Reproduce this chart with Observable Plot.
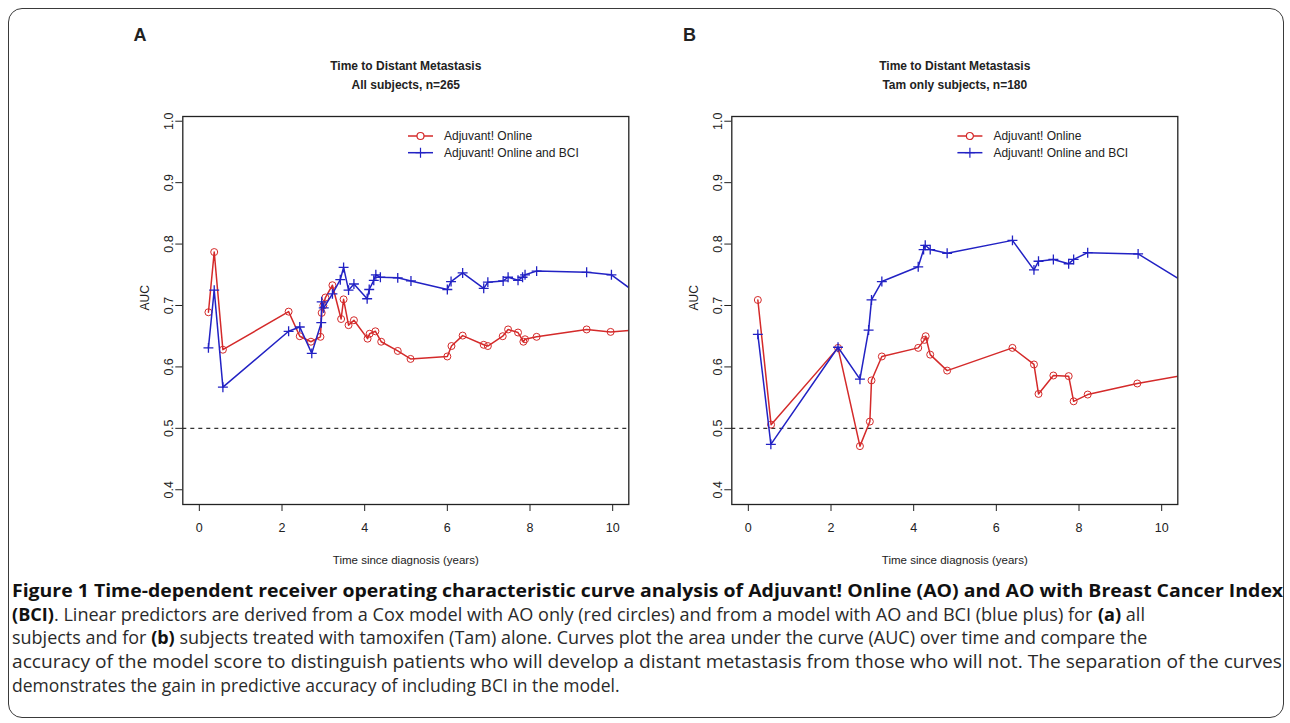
<!DOCTYPE html>
<html><head><meta charset="utf-8">
<script src="https://cdn.jsdelivr.net/npm/d3@7"></script>
<script src="https://cdn.jsdelivr.net/npm/@observablehq/plot@0.6"></script>
<style>
body{margin:0;background:#fff;}
#root{position:relative;width:1290px;height:723px;overflow:hidden;font-family:"Liberation Sans",Arial,sans-serif;color:#222;}
#border{position:absolute;left:8px;top:8px;width:1276px;height:710px;border:1.5px solid #3a3a3a;border-radius:14px;box-sizing:border-box;}
.panel{position:absolute;top:0;}
.letter{position:absolute;font-weight:bold;font-size:18px;line-height:18px;transform:translate(-50%,-50%);}
#legend,#caption{position:absolute;left:0;top:0;}
</style></head>
<body><div id="root"><div id="border"></div></div>
<script>
// ---- data ----
const panelLetters = ["A", "B"];
const titles1 = ["Time to Distant Metastasis", "Time to Distant Metastasis"];
const titles2 = ["All subjects, n=265", "Tam only subjects, n=180"];
const seriesNames = ["Adjuvant! Online", "Adjuvant! Online and BCI"];
const xLabel = "Time since diagnosis (years)";
const yLabel = "AUC";
const xTicks = [0, 2, 4, 6, 8, 10];
const yTicks = [0.4, 0.5, 0.6, 0.7, 0.8, 0.9, 1.0];
const refLine = [0.5];

// Panel A (all subjects)
const tA_ao = [0.22,0.36,0.57,2.16,2.43,2.70,2.93,2.96,3.00,3.05,3.22,3.43,3.49,3.61,3.74,4.07,4.12,4.26,4.40,4.80,5.11,6.00,6.10,6.37,6.88,6.98,7.34,7.47,7.71,7.84,7.88,8.16,9.37,9.95,11.0];
const aucA_ao = [0.689,0.787,0.628,0.690,0.650,0.641,0.649,0.688,0.700,0.713,0.733,0.678,0.710,0.668,0.676,0.646,0.654,0.658,0.641,0.626,0.613,0.617,0.634,0.651,0.636,0.634,0.650,0.661,0.656,0.641,0.645,0.649,0.661,0.657,0.662];
const tA_bci = [0.22,0.36,0.57,2.16,2.43,2.72,2.95,2.96,3.01,3.22,3.41,3.49,3.61,3.74,4.06,4.11,4.22,4.27,4.38,4.80,5.12,6.00,6.09,6.37,6.88,6.98,7.35,7.47,7.71,7.82,7.88,8.16,9.37,9.97,11.0];
const aucA_bci = [0.631,0.725,0.567,0.658,0.665,0.622,0.672,0.706,0.696,0.719,0.742,0.762,0.725,0.735,0.711,0.726,0.741,0.750,0.746,0.745,0.740,0.726,0.739,0.753,0.728,0.738,0.740,0.746,0.741,0.746,0.750,0.756,0.754,0.750,0.699];

// Panel B (tamoxifen only)
const tB_ao = [0.23,0.55,2.17,2.70,2.94,2.98,3.23,4.11,4.26,4.29,4.40,4.81,6.39,6.91,7.02,7.38,7.75,7.87,8.21,9.41,11.0];
const aucB_ao = [0.709,0.506,0.631,0.471,0.511,0.578,0.617,0.631,0.644,0.650,0.620,0.594,0.631,0.604,0.556,0.586,0.585,0.544,0.555,0.573,0.592];
const tB_bci = [0.23,0.545,2.17,2.70,2.91,2.98,3.23,4.11,4.24,4.28,4.40,4.81,6.39,6.91,7.02,7.38,7.75,7.87,8.21,9.43,11.0];
const aucB_bci = [0.653,0.474,0.632,0.580,0.660,0.709,0.739,0.763,0.791,0.798,0.791,0.785,0.806,0.758,0.772,0.775,0.768,0.775,0.786,0.784,0.719];

const captionLines = [
  [["Figure 1 Time-dependent receiver operating characteristic curve analysis of Adjuvant! Online (AO) and AO with Breast Cancer Index", true]],
  [["(BCI)", true], [". Linear predictors are derived from a Cox model with AO only (red circles) and from a model with AO and BCI (blue plus) for ", false], ["(a)", true], [" all", false]],
  [["subjects and for ", false], ["(b)", true], [" subjects treated with tamoxifen (Tam) alone. Curves plot the area under the curve (AUC) over time and compare the", false]],
  [["accuracy of the model score to distinguish patients who will develop a distant metastasis from those who will not. The separation of the curves", false]],
  [["demonstrates the gain in predictive accuracy of including BCI in the model.", false]]
];

// ---- styling ----
const RED = "#d42a2a", BLUE = "#2222c4";
const root = document.getElementById("root");
const zip = (t, v) => t.map((d, i) => ({t: d, v: v[i]}));
const panels = [
  {left: 100, ao: zip(tA_ao, aucA_ao), bci: zip(tA_bci, aucA_bci)},
  {left: 649.4, ao: zip(tB_ao, aucB_ao), bci: zip(tB_bci, aucB_bci)}
];

panels.forEach((p, i) => {
  const chart = Plot.plot({
    width: 550, height: 600,
    marginLeft: 82.3, marginRight: 21.7, marginTop: 116, marginBottom: 96,
    x: {domain: [-0.40, 10.39], label: null},
    y: {domain: [0.376, 1.0077], label: null},
    style: {background: "transparent", fontSize: "12.5px", fontFamily: '"Liberation Sans", Arial, sans-serif', color: "#222", overflow: "visible"},
    marks: [
      Plot.ruleY(refLine, {stroke: "#333", strokeWidth: 1.2, strokeDasharray: "4,4"}),
      Plot.line(p.ao, {x: "t", y: "v", stroke: RED, strokeWidth: 1.5, clip: true}),
      Plot.dot(p.ao, {x: "t", y: "v", r: 3.5, stroke: RED, fill: "none", strokeWidth: 1, clip: true}),
      Plot.line(p.bci, {x: "t", y: "v", stroke: BLUE, strokeWidth: 1.5, clip: true}),
      Plot.dot(p.bci, {x: "t", y: "v", r: 3.3, symbol: "plus", stroke: BLUE, strokeWidth: 1.3, clip: true}),
      Plot.frame({stroke: "#222", strokeWidth: 1.3}),
      Plot.axisX({ticks: xTicks, tickSize: 7, tickPadding: 12, tickFormat: d3.format("d"), stroke: "#222", label: null}),
      Plot.axisY({ticks: yTicks, tickSize: 7, tickRotate: -90, tickPadding: 3, tickFormat: d3.format(".1f"), stroke: "#222", label: null}),
      Plot.text([yLabel], {text: d => d, frameAnchor: "left", dx: -38, rotate: -90, fontSize: 12}),
      Plot.text([xLabel], {text: d => d, frameAnchor: "bottom", dy: 59, fontSize: 11.5}),
      Plot.text([titles1[i]], {text: d => d, frameAnchor: "top", dy: -55, fontSize: 12, fontWeight: "bold"}),
      Plot.text([titles2[i]], {text: d => d, frameAnchor: "top", dy: -36, fontSize: 12, fontWeight: "bold"})
    ]
  });
  chart.classList.add("panel");
  chart.style.left = p.left + "px";
  root.appendChild(chart);

  const letter = document.createElement("div");
  letter.className = "letter";
  letter.textContent = panelLetters[i];
  letter.style.left = (140 + (p.left - 100)) + "px";
  letter.style.top = "35px";
  root.appendChild(letter);
});

// ---- legends ----
const NS = "http://www.w3.org/2000/svg";
const leg = document.createElementNS(NS, "svg");
leg.setAttribute("id", "legend");
leg.setAttribute("width", 1290); leg.setAttribute("height", 200);
root.appendChild(leg);
panels.forEach((p, i) => {
  const ox = p.left - 100;
  const items = [{name: seriesNames[0], color: RED, y: 136, sym: "circle"}, {name: seriesNames[1], color: BLUE, y: 152.7, sym: "plus"}];
  items.forEach(it => {
    const l = document.createElementNS(NS, "line");
    l.setAttribute("x1", 408 + ox); l.setAttribute("x2", 433 + ox);
    l.setAttribute("y1", it.y); l.setAttribute("y2", it.y);
    l.setAttribute("stroke", it.color); l.setAttribute("stroke-width", 1.5);
    leg.appendChild(l);
    const path = document.createElementNS(NS, "path");
    const cx = 420.5 + ox;
    if (it.sym === "circle") {
      path.setAttribute("d", `M${cx + 3.5},${it.y}A3.5,3.5 0 1,1 ${cx - 3.5},${it.y}A3.5,3.5 0 1,1 ${cx + 3.5},${it.y}`);
      path.setAttribute("fill", "#fff");
    } else {
      path.setAttribute("d", `M${cx - 5},${it.y}H${cx + 5}M${cx},${it.y - 5}V${it.y + 5}`);
      path.setAttribute("fill", "none");
    }
    path.setAttribute("stroke", it.color); path.setAttribute("stroke-width", 1.2);
    leg.appendChild(path);
    const tx = document.createElementNS(NS, "text");
    tx.setAttribute("x", 444 + ox); tx.setAttribute("y", it.y);
    tx.setAttribute("dy", "0.35em");
    tx.setAttribute("font-size", "12px");
    tx.setAttribute("fill", "#222");
    tx.textContent = it.name;
    leg.appendChild(tx);
  });
});

// ---- caption: each line in a horizontally scaled group, segments laid out at natural widths ----
const cap = document.createElementNS(NS, "svg");
cap.setAttribute("id", "caption");
cap.setAttribute("width", 1290); cap.setAttribute("height", 723);
root.appendChild(cap);
const baselines = [597, 621, 644, 668, 692];
const lineEnds = [1284, 1145, 1148, 1283, 620];
captionLines.forEach((segs, li) => {
  const g = document.createElementNS(NS, "g");
  cap.appendChild(g);
  const els = segs.map(([s, b]) => {
    const t = document.createElementNS(NS, "text");
    t.setAttribute("y", 0);
    t.setAttribute("font-size", "18.5px");
    t.setAttribute("font-family", '"Open Sans", "Noto Sans", "Liberation Sans", Arial, sans-serif');
    t.setAttribute("fill", b ? "#111" : "#2a2a2a");
    if (b) t.setAttribute("font-weight", "bold");
    t.style.whiteSpace = "pre";
    t.textContent = s;
    g.appendChild(t);
    return t;
  });
  const widths = els.map(t => t.getComputedTextLength());
  const total = widths.reduce((a, b) => a + b, 0);
  const k = (lineEnds[li] - 12) / total;
  let x = 0;
  els.forEach((t, j) => {
    t.setAttribute("x", x.toFixed(2));
    x += widths[j];
  });
  g.setAttribute("transform", `translate(12,${baselines[li]}) scale(${k.toFixed(4)},1)`);
});
</script>
</body></html>
